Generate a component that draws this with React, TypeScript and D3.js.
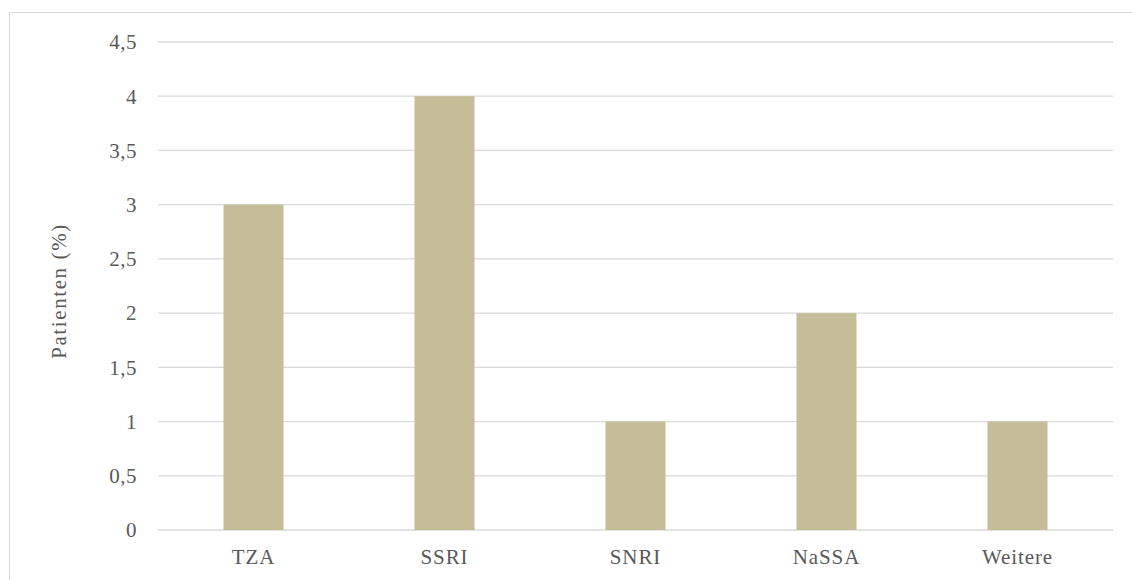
import React from "react";
import * as d3 from "d3";

const categories = ["TZA", "SSRI", "SNRI", "NaSSA", "Weitere"];
const values = [3, 4, 1, 2, 1];
const yTicks = [0, 0.5, 1, 1.5, 2, 2.5, 3, 3.5, 4, 4.5];
const yTitle = "Patienten (%)";

const W = 1132;
const H = 580;
const plot = { left: 158, right: 1113, top: 42, bottom: 530 };
const textColor = "#595959";
const gridColor = "#d9d9d9";
const barColor = "#c4bd97";
const font = "'Liberation Serif', serif";

export default function App() {
  const x = d3
    .scaleBand<string>()
    .domain(categories)
    .range([plot.left, plot.right])
    .paddingInner(0.686)
    .paddingOuter(0.343);
  const y = d3.scaleLinear().domain([0, 4.5]).range([plot.bottom, plot.top]);
  const fmt = (v: number) => String(v).replace(".", ",");
  const textStyle = { fontFamily: font };

  return (
    <svg
      width={W}
      height={H}
      style={{ position: "absolute", left: 0, top: 0, background: "#fff" }}
    >
      <rect x={9.5} y={12.5} width={W} height={H} fill="#fff" stroke={gridColor} strokeWidth={1} />
      {yTicks.map((t) => (
        <g key={t}>
          <line
            x1={plot.left}
            x2={plot.right}
            y1={y(t)}
            y2={y(t)}
            stroke={gridColor}
            strokeWidth={1.3}
          />
          <text
            x={137}
            y={y(t)}
            dy="0.35em"
            textAnchor="end"
            fontSize={21}
            fill={textColor}
            letterSpacing={0.5}
            style={textStyle}
          >
            {fmt(t)}
          </text>
        </g>
      ))}
      {categories.map((c, i) => (
        <rect
          key={c}
          x={x(c)}
          y={y(values[i])}
          width={x.bandwidth()}
          height={y(0) - y(values[i])}
          fill={barColor}
        />
      ))}
      {categories.map((c) => (
        <text
          key={c}
          x={(x(c) as number) + x.bandwidth() / 2}
          y={564}
          textAnchor="middle"
          fontSize={21}
          fill={textColor}
          letterSpacing={0.9}
          style={textStyle}
        >
          {c}
        </text>
      ))}
      <text
        transform={`translate(66,291) rotate(-90)`}
        textAnchor="middle"
        fontSize={21}
        fill={textColor}
        letterSpacing={1.6}
        style={textStyle}
      >
        {yTitle}
      </text>
    </svg>
  );
}
